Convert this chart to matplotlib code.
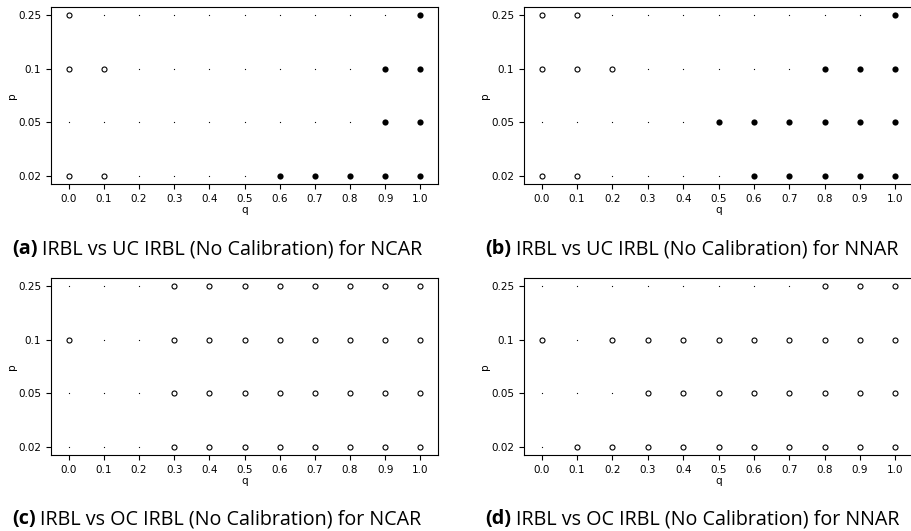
import numpy as np
import matplotlib
matplotlib.use('Agg')
import matplotlib.pyplot as plt

# Valores de q (eje x) y p (eje y)
q_vals = [0.0, 0.1, 0.2, 0.3, 0.4, 0.5, 0.6, 0.7, 0.8, 0.9, 1.0]
p_labels = ['0.02', '0.05', '0.1', '0.25']

# 0 = no significativo, 1 = mejor IRBL, 2 = mejor variante
# filas en orden de p_labels: 0.02, 0.05, 0.1, 0.25
uc_ncar = [
    [1, 1, 0, 0, 0, 0, 2, 2, 2, 2, 2],
    [0, 0, 0, 0, 0, 0, 0, 0, 0, 2, 2],
    [1, 1, 0, 0, 0, 0, 0, 0, 0, 2, 2],
    [1, 0, 0, 0, 0, 0, 0, 0, 0, 0, 2],
]
uc_nnar = [
    [1, 1, 0, 0, 0, 0, 2, 2, 2, 2, 2],
    [0, 0, 0, 0, 0, 2, 2, 2, 2, 2, 2],
    [1, 1, 1, 0, 0, 0, 0, 0, 2, 2, 2],
    [1, 1, 0, 0, 0, 0, 0, 0, 0, 0, 2],
]
oc_ncar = [
    [0, 0, 0, 1, 1, 1, 1, 1, 1, 1, 1],
    [0, 0, 0, 1, 1, 1, 1, 1, 1, 1, 1],
    [1, 0, 0, 1, 1, 1, 1, 1, 1, 1, 1],
    [0, 0, 0, 1, 1, 1, 1, 1, 1, 1, 1],
]
oc_nnar = [
    [0, 1, 1, 1, 1, 1, 1, 1, 1, 1, 1],
    [0, 0, 0, 1, 1, 1, 1, 1, 1, 1, 1],
    [1, 0, 1, 1, 1, 1, 1, 1, 1, 1, 1],
    [0, 0, 0, 0, 0, 0, 0, 0, 1, 1, 1],
]

paneles = [uc_ncar, uc_nnar, oc_ncar, oc_nnar]
letras = ['(a)', '(b)', '(c)', '(d)']
titulos = ['IRBL vs UC IRBL (No Calibration) for NCAR',
           'IRBL vs UC IRBL (No Calibration) for NNAR',
           'IRBL vs OC IRBL (No Calibration) for NCAR',
           'IRBL vs OC IRBL (No Calibration) for NNAR']

W, H = 911, 531
fig = plt.figure(figsize=(W/100, H/100), dpi=100)

# posiciones en pixeles: (izq, arriba, ancho) de cada eje
pos = [(51, 7, 387), (524, 7, 389), (51, 278, 387), (524, 278, 389)]
alto = 177
pos_texto = [(12, 254), (485, 254), (12, 524), (485, 524)]

for k in range(4):
    x0, y0, ancho = pos[k]
    ax = fig.add_axes([x0/W, 1 - (y0 + alto)/H, ancho/W, alto/H])
    grid = np.array(paneles[k])
    qq, pp = np.meshgrid(q_vals, np.arange(len(p_labels)))

    m0 = grid == 0
    m1 = grid == 1
    m2 = grid == 2
    ax.scatter(qq[m0], pp[m0], s=0.8, color='black', linewidths=0)
    ax.scatter(qq[m1], pp[m1], s=13, facecolors='white', edgecolors='black', linewidths=0.8)
    ax.scatter(qq[m2], pp[m2], s=20, color='black', linewidths=0)
    ax.set_xlim(-0.05, 1.05)
    ax.set_ylim(-0.15, 3.15)

    ax.set_xticks(q_vals)
    ax.set_xticklabels(['%.1f' % q for q in q_vals])
    ax.set_yticks(np.arange(len(p_labels)))
    ax.set_yticklabels(p_labels)
    ax.tick_params(labelsize=7.5)
    ax.set_xlabel('q', fontsize=7.5, labelpad=1)
    ax.set_ylabel('p', fontsize=7.5, labelpad=1)

    # pie de figura: letra en negrita y luego el texto
    tx, ty = pos_texto[k]
    t = fig.text(tx/W, 1 - ty/H, letras[k], family='Open Sans',
                 weight='bold', fontsize=14.2, va='baseline')
    ax.annotate(titulos[k], xy=(1, 0), xycoords=t, xytext=(3.5, 0),
                textcoords='offset points', family='Open Sans',
                fontsize=14.2, va='bottom', annotation_clip=False)

fig.savefig('out.png', dpi=100)
